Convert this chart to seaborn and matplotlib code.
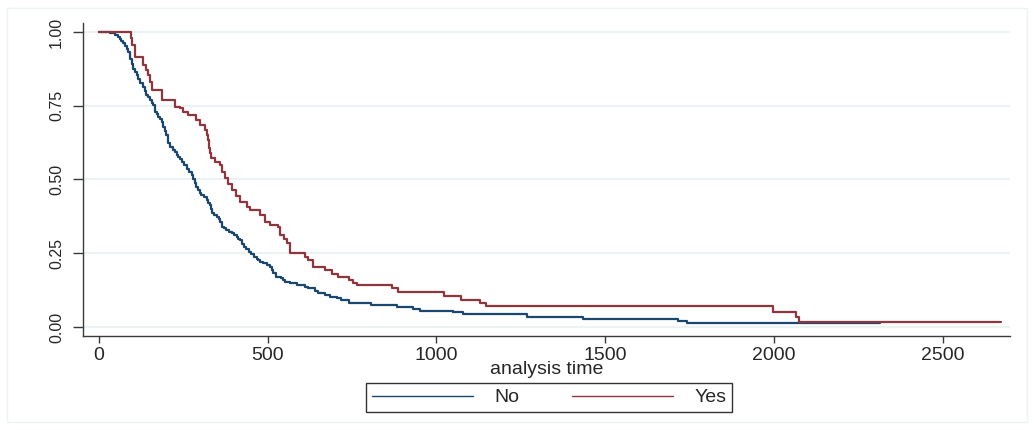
import numpy as np
import pandas as pd
import matplotlib
matplotlib.use("Agg")
import matplotlib.pyplot as plt
import seaborn as sns
from matplotlib.patches import Rectangle
from matplotlib.lines import Line2D

# ---- data (Kaplan-Meier step points) ----
groups = ["No", "Yes"]

no_time = [0, 33, 47, 57, 62, 67, 72, 77, 82, 87, 92, 97, 102, 107, 112, 116, 121, 131, 136,
           141, 146, 151, 156, 161, 166, 171, 176, 181, 186, 190, 195, 200, 205, 212, 220, 225,
           230, 235, 240, 245, 252, 260, 268, 275, 280, 284, 289, 294, 299, 304, 311, 319, 324,
           329, 332, 334, 341, 349, 355, 359, 364, 371, 378, 386, 393, 400, 408, 413, 418, 425,
           430, 437, 445, 452, 460, 467, 472, 478, 487, 497, 507, 512, 516, 526, 541, 546, 551,
           566, 586, 610, 620, 640, 650, 670, 684, 705, 718, 740, 760, 805, 882, 930, 951, 1049,
           1079, 1267, 1433, 1716, 1741, 2314]
no_surv = [1.0, 0.995, 0.99, 0.982, 0.976, 0.971, 0.962, 0.953, 0.942, 0.931, 0.909, 0.892,
           0.875, 0.864, 0.854, 0.840, 0.826, 0.815, 0.800, 0.786, 0.778, 0.769, 0.761, 0.753,
           0.730, 0.722, 0.713, 0.705, 0.696, 0.679, 0.665, 0.651, 0.623, 0.611, 0.600, 0.594,
           0.583, 0.577, 0.568, 0.560, 0.549, 0.537, 0.526, 0.515, 0.500, 0.487, 0.475, 0.464,
           0.455, 0.447, 0.439, 0.431, 0.422, 0.414, 0.400, 0.385, 0.380, 0.374, 0.365, 0.357,
           0.340, 0.335, 0.329, 0.323, 0.318, 0.312, 0.306, 0.300, 0.295, 0.283, 0.272, 0.263,
           0.255, 0.246, 0.238, 0.232, 0.227, 0.221, 0.216, 0.210, 0.204, 0.193, 0.182, 0.171,
           0.165, 0.159, 0.154, 0.148, 0.142, 0.137, 0.131, 0.122, 0.114, 0.108, 0.103, 0.097,
           0.092, 0.082, 0.080, 0.075, 0.069, 0.061, 0.054, 0.050, 0.043, 0.035, 0.027, 0.021,
           0.015, 0.015]

yes_time = [0, 94, 99, 107, 131, 139, 146, 151, 156, 186, 225, 240, 250, 265, 289, 299, 314,
            320, 324, 327, 330, 333, 345, 358, 366, 373, 384, 394, 406, 418, 438, 447, 477, 492,
            507, 530, 536, 548, 557, 566, 610, 619, 634, 670, 690, 708, 740, 753, 764, 868, 886,
            1022, 1073, 1129, 1147, 1997, 2065, 2075, 2672]
yes_surv = [1.0, 0.978, 0.956, 0.916, 0.888, 0.871, 0.854, 0.829, 0.803, 0.769, 0.747, 0.741,
            0.728, 0.719, 0.702, 0.685, 0.668, 0.651, 0.634, 0.607, 0.590, 0.573, 0.561, 0.549,
            0.527, 0.505, 0.485, 0.464, 0.444, 0.424, 0.407, 0.397, 0.380, 0.356, 0.346, 0.339,
            0.312, 0.298, 0.285, 0.251, 0.237, 0.227, 0.203, 0.193, 0.180, 0.170, 0.159, 0.149,
            0.142, 0.132, 0.119, 0.105, 0.092, 0.081, 0.071, 0.051, 0.034, 0.017, 0.017]

x_ticks = [0, 500, 1000, 1500, 2000, 2500]
y_ticks = [0.0, 0.25, 0.5, 0.75, 1.0]
y_tick_labels = ["0.00", "0.25", "0.50", "0.75", "1.00"]
x_label = "analysis time"

colors = {"No": "#1a476f", "Yes": "#90353b"}

df = pd.concat([
    pd.DataFrame({"time": no_time, "surv": no_surv, "group": "No"}),
    pd.DataFrame({"time": yes_time, "surv": yes_surv, "group": "Yes"}),
], ignore_index=True)

# ---- figure ----
sns.set_style("white")
plt.rcParams["font.family"] = ["Liberation Sans", "DejaVu Sans"]

W, H = 1034, 430
fig = plt.figure(figsize=(W / 100, H / 100), dpi=100)
fig.patch.set_facecolor("white")
ax = fig.add_axes([83 / W, 1 - 336 / H, (1010 - 83) / W, (336 - 23) / H])

sns.lineplot(data=df, x="time", y="surv", hue="group", hue_order=groups,
             palette=colors, estimator=None, sort=False, drawstyle="steps-post",
             linewidth=1.6, ax=ax, legend=False)

ax.set_xlim(-47, 2699)
ax.set_ylim(-0.0305, 1.0305)
ax.set_xticks(x_ticks)
ax.set_xticklabels([str(v) for v in x_ticks], fontsize=14)
ax.set_yticks(y_ticks)
ax.set_yticklabels(y_tick_labels, fontsize=11.5, rotation=90, va="center")

for yv in y_ticks:
    ax.axhline(yv, color="#eaf2f3", lw=1.5, zorder=0)

for side in ["top", "right"]:
    ax.spines[side].set_visible(False)
for side in ["left", "bottom"]:
    ax.spines[side].set_color("#3a3a3a")
    ax.spines[side].set_linewidth(1.0)

ax.tick_params(axis="x", direction="out", length=5, width=1, color="#3a3a3a", pad=3,
               bottom=True)
ax.tick_params(axis="y", direction="out", length=7.5, width=1, color="#3a3a3a", pad=6,
               left=True)
ax.set_xlabel(x_label, fontsize=14, labelpad=-2)
ax.set_ylabel("")

# legend
handles = [Line2D([0], [0], color=colors[g], lw=1.0) for g in groups]
leg = fig.legend(handles, groups, loc="upper center", ncol=2,
                 bbox_to_anchor=(549 / W, 1 - 383 / H), fontsize=14,
                 frameon=True, fancybox=False, handlelength=5.2, handletextpad=1.1,
                 columnspacing=2.7, borderpad=0.3, borderaxespad=0)
leg.get_frame().set_edgecolor("black")
leg.get_frame().set_linewidth(1.0)

# faint outer frame
fig.patches.append(Rectangle((7 / W, 8 / H), (1027 - 7) / W, (422 - 8) / H,
                             transform=fig.transFigure, fill=False,
                             edgecolor="#edf2f4", lw=1.0))

fig.savefig("out.png", dpi=100)
